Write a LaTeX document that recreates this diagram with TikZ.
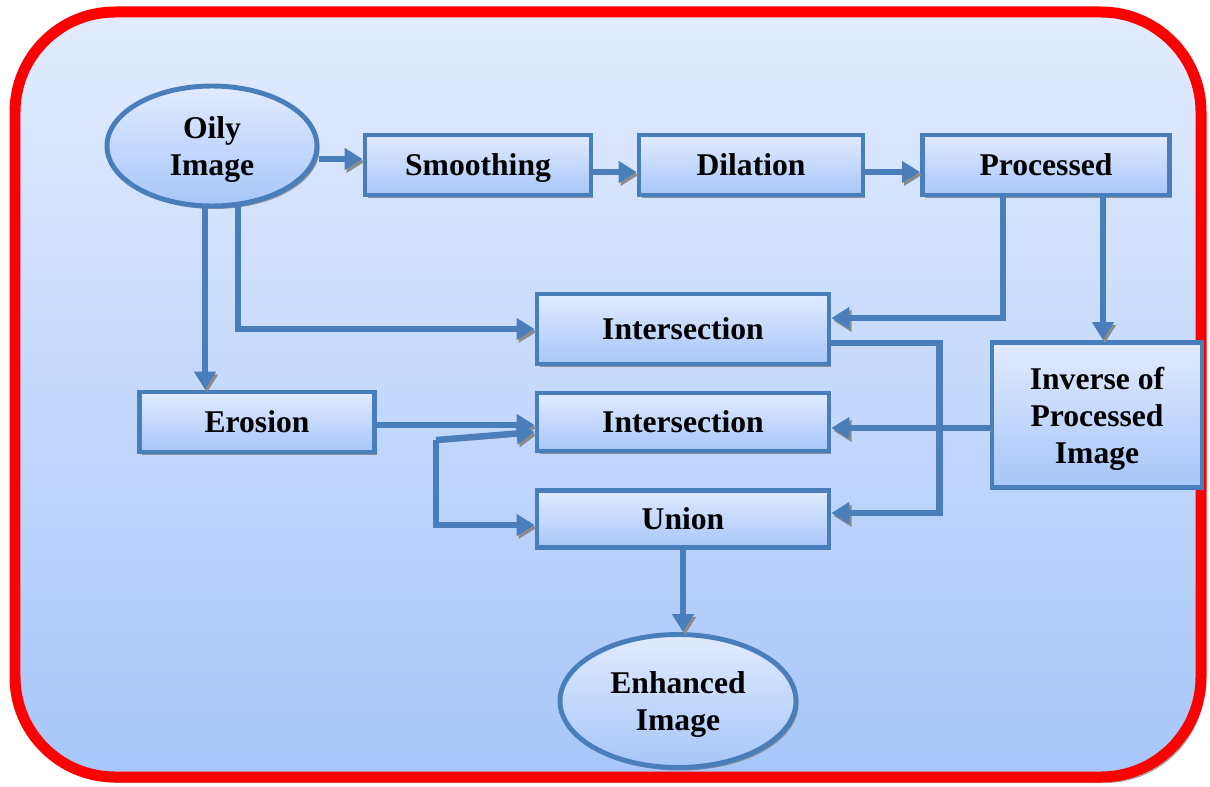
\documentclass[tikz,border=0pt]{standalone}
\usepackage{fontspec}
\setmainfont{Liberation Serif}
\usetikzlibrary{arrows.meta,shapes.geometric,shadows}

\begin{document}
\begin{tikzpicture}[x=0.02cm, y=-0.02cm]
    \definecolor{frameColour}{HTML}{FF0000}
    \definecolor{lineColour}{HTML}{4A7EBB}
    \definecolor{topColour}{HTML}{E1EBFE}
    \definecolor{bottomColour}{HTML}{A7C6FA}

    \tikzset{
        stepbox/.style={rectangle, draw=lineColour, line width=2.8pt, inner sep=0pt,
            top color=topColour, bottom color=bottomColour, align=center,
            font=\fontsize{18}{21}\selectfont\bfseries, text depth=0pt,
            drop shadow={shadow xshift=0.05cm, shadow yshift=-0.06cm, fill=black!55, opacity=0.7}},
        endbox/.style={stepbox, ellipse},
        flow/.style={draw=lineColour, line width=3.6pt,
            -{Triangle[length=0.36cm,width=0.42cm]},
            preaction={draw=black!45, transform canvas={xshift=1.2pt,yshift=-1.6pt}}}
    }

    % Page and frame
    \useasboundingbox (0,0) rectangle (1210,787);
    \fill[black!35] (21,20) [rounded corners=2cm] rectangle (1205,783);
    \draw[frameColour, line width=0.22cm, rounded corners=2cm, top color=topColour!95!white, bottom color=bottomColour]
        (15,12) rectangle (1201,777);

    % Nodes
    \node[endbox, minimum width=4.2cm, minimum height=2.4cm] (oily) at (212,146) {Oily\\Image};
    \node[stepbox, minimum width=4.52cm, minimum height=1.2cm] (smooth) at (478,165) {Smoothing};
    \node[stepbox, minimum width=4.48cm, minimum height=1.2cm] (dil) at (751,165) {Dilation};
    \node[stepbox, minimum width=4.94cm, minimum height=1.2cm] (proc) at (1046,165) {Processed};
    \node[stepbox, minimum width=5.84cm, minimum height=1.4cm] (int1) at (683,329) {Intersection};
    \node[stepbox, minimum width=4.2cm, minimum height=2.9cm] (inv) at (1097,415) {Inverse of\\Processed\\Image};
    \node[stepbox, minimum width=4.7cm, minimum height=1.2cm] (ero) at (257,422) {Erosion};
    \node[stepbox, minimum width=5.84cm, minimum height=1.16cm] (int2) at (683,422) {Intersection};
    \node[stepbox, minimum width=5.84cm, minimum height=1.14cm] (union) at (683,519) {Union};
    \node[endbox, minimum width=4.72cm, minimum height=2.66cm] (enh) at (678,701) {Enhanced\\Image};

    % Top row
    \draw[flow] ([yshift=-0.26cm]oily.east) -- ([yshift=-0.26cm]oily.east -| smooth.west);
    \draw[flow] ([yshift=-0.14cm]smooth.east) -- ([yshift=-0.14cm]dil.west);
    \draw[flow] ([yshift=-0.14cm]dil.east) -- ([yshift=-0.14cm]proc.west);

    % From the oily image
    \draw[flow] ([xshift=-0.14cm]oily.south) -- ([xshift=-0.14cm]oily.south |- ero.north);
    \draw[flow] ([xshift=0.52cm,yshift=0.04cm]oily.south) |- (int1.west);

    % From the processed image
    \draw[flow] ([xshift=-0.86cm]proc.south) |- ([yshift=0.22cm]int1.east);
    \draw[flow] ([xshift=1.14cm]proc.south) -- ([xshift=1.14cm]proc.south |- inv.north);

    % Middle
    \draw[flow] ([yshift=-0.28cm]int1.east) -- ++(108,0) |- ([yshift=0.12cm]union.east);
    \draw[flow] ([yshift=-0.26cm]inv.west) -- ([yshift=-0.26cm]inv.west -| int2.east);
    \draw[flow] ([yshift=-0.06cm]ero.east) -- ([yshift=-0.06cm]ero.east -| int2.west);

    \coordinate (j) at (436,440);
    \draw[flow] (j) -- ([yshift=-0.2cm]int2.west);
    \draw[flow] (j) |- ([yshift=-0.12cm]union.west);

    % Result
    \draw[flow] (union.south) -- (union.south |- enh.north);

\end{tikzpicture}
\end{document}
